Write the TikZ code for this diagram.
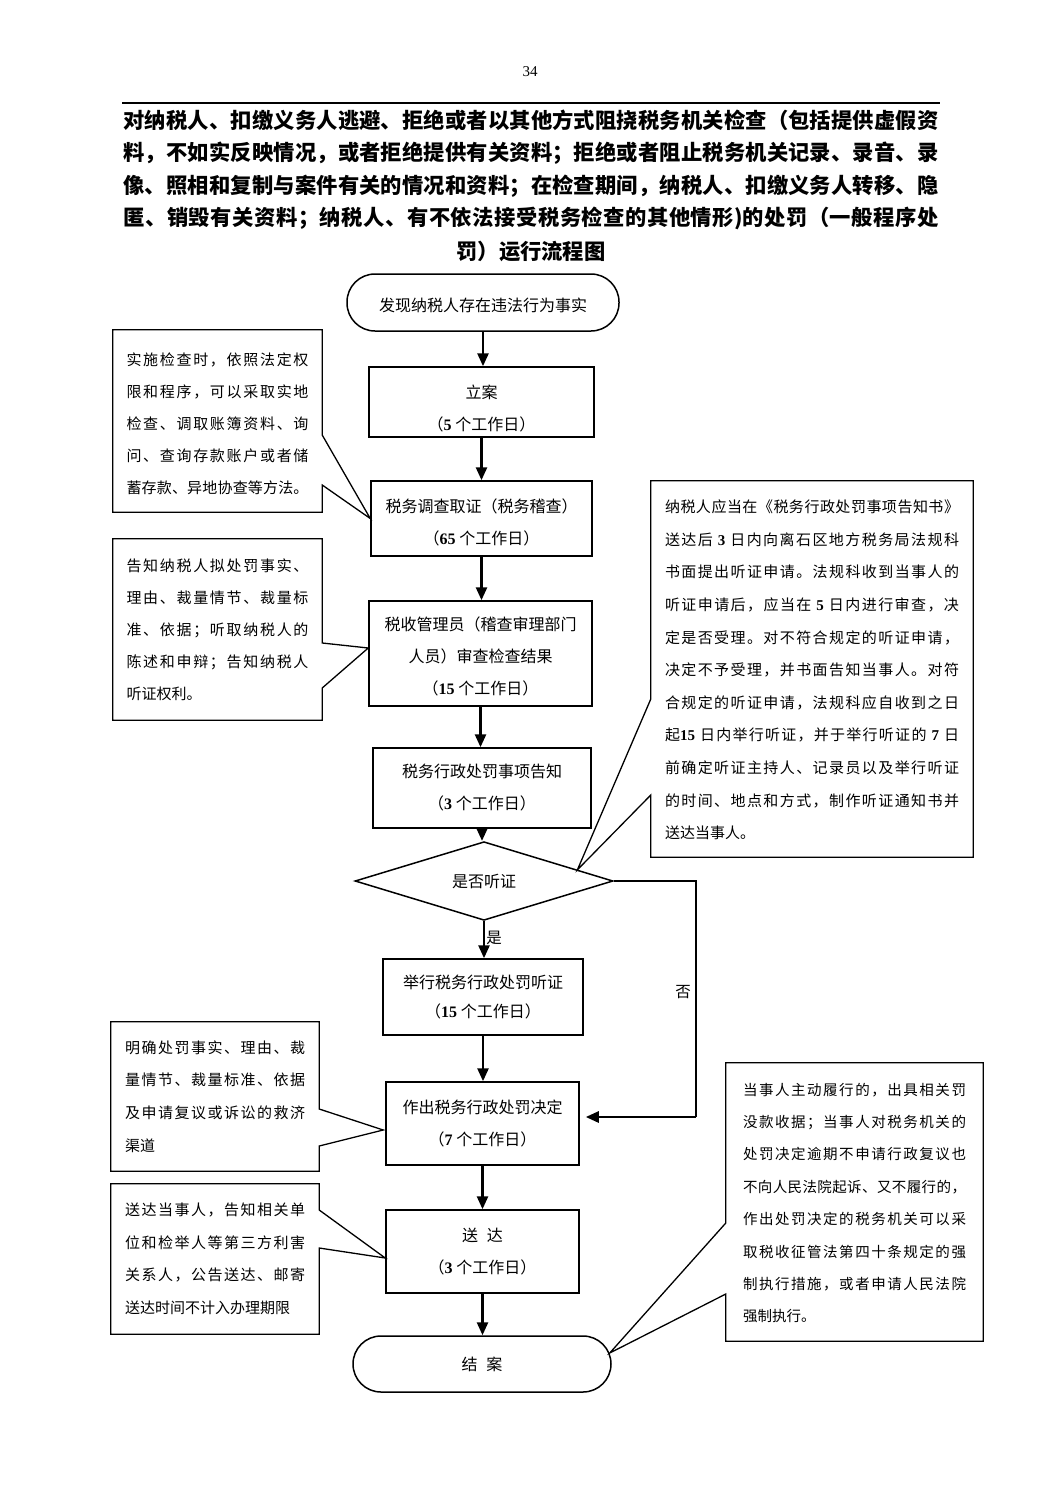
\documentclass[tikz,border=0pt]{standalone}
\usepackage{fontspec}
\setmainfont{Noto Sans CJK SC}
\newfontfamily\tnr{Liberation Serif}
\usetikzlibrary{arrows.meta,shapes.geometric,calc}
% stretchable glue between CJK characters (for justified lines)
\XeTeXinterchartokenstate=1
\newXeTeXintercharclass\cjkcls
\newcount\cjkcnt
\cjkcnt="3000
\loop\ifnum\cjkcnt<"3040 \XeTeXcharclass\cjkcnt=\cjkcls \advance\cjkcnt by 1 \repeat
\cjkcnt="4E00
\loop\ifnum\cjkcnt<"A000 \XeTeXcharclass\cjkcnt=\cjkcls \advance\cjkcnt by 1 \repeat
\cjkcnt="FF00
\loop\ifnum\cjkcnt<"FFF0 \XeTeXcharclass\cjkcnt=\cjkcls \advance\cjkcnt by 1 \repeat
\XeTeXinterchartoks\cjkcls\cjkcls={\hskip0pt plus 1pt\relax}
\newcommand\dg[1]{{\tnr\bfseries #1}}
\newcommand\jl[2]{\makebox[#1][s]{#2}}
\newcommand\lift[1]{\rule{0pt}{#1}}
\tikzset{
  flow/.style={draw, line width=1.5pt, inner sep=0pt, align=center, font=\fontsize{16}{32}\selectfont},
  term/.style={flow, rounded corners=28pt},
  note/.style={inner sep=0pt, align=left, font=\fontsize{15}{32}\selectfont},
  frame/.style={draw, line width=1.3pt, line join=miter},
  flowarrow/.style={line width=2.6pt, -{Triangle[length=13pt,width=11pt]}},
  thinline/.style={line width=1.5pt},
  lbl/.style={inner sep=1pt, font=\fontsize{15.5}{18}\selectfont}
}
\begin{document}
\begin{tikzpicture}[x=1pt,y=-1pt]
\useasboundingbox[fill=white] (0,0) rectangle (1063,1502);

% header
\node[inner sep=0pt, font=\tnr\fontsize{15}{15}\selectfont] (pgno) at (530,72) {34};
\coordinate (ruleL) at (122,103);
\coordinate (ruleR) at (940,103);
\draw[line width=2pt] (ruleL) -- (ruleR);
\node[inner sep=0pt, align=left, font=\bfseries\fontsize{21.3}{32.5}\selectfont] (title) at (531,170) {%
\jl{815pt}{对纳税人、扣缴义务人逃避、拒绝或者以其他方式阻挠税务机关检查（包括提供虚假资}\\
\jl{815pt}{料，不如实反映情况，或者拒绝提供有关资料；拒绝或者阻止税务机关记录、录音、录}\\
\jl{815pt}{像、照相和复制与案件有关的情况和资料；在检查期间，纳税人、扣缴义务人转移、隐}\\
\jl{815pt}{匿、销毁有关资料；纳税人、有不依法接受税务检查的其他情形)的处罚（一般程序处}};
\node[inner sep=0pt, font=\bfseries\fontsize{21.3}{26}\selectfont] (title2) at (531,251) {罚）运行流程图};

% main flow
\node[term, minimum width=272pt, minimum height=57pt] (start) at (483,302.5) {\lift{20pt}发现纳税人存在违法行为事实};
\node[flow, minimum width=225pt, minimum height=70pt] (b1) at (481.5,402) {\lift{26pt}立案\\（\dg{5} 个工作日）};
\node[flow, minimum width=221pt, minimum height=75pt] (b2) at (481.5,518.5) {\lift{22pt}税务调查取证（税务稽查）\\（\dg{65} 个工作日）};
\node[flow, minimum width=223pt, minimum height=105pt] (b3) at (480.5,653.5) {\lift{20pt}税收管理员（稽查审理部门\\人员）审查检查结果\\（\dg{15} 个工作日）};
\node[flow, minimum width=218pt, minimum height=80pt] (b4) at (482,788) {税务行政处罚事项告知\\（\dg{3} 个工作日）};
\node[flow, shape=diamond, minimum width=258pt, minimum height=68pt] (d) at (484,881) {是否听证};
\node[flow, minimum width=200pt, minimum height=76pt, font=\fontsize{16}{29}\selectfont] (b5) at (483,997) {举行税务行政处罚听证\\（\dg{15} 个工作日）};
\node[flow, minimum width=193pt, minimum height=83pt] (b6) at (482.5,1123.5) {作出税务行政处罚决定\\（\dg{7} 个工作日）};
\node[flow, minimum width=193pt, minimum height=83pt] (b7) at (482.5,1251.5) {送\hspace{9pt}达\\（\dg{3} 个工作日）};
\node[term, minimum width=258pt, minimum height=56pt] (end) at (482,1364) {结\hspace{9pt}案};

\draw[flowarrow] (start.south) -- (start.south |- b1.north);
\draw[flowarrow] (b1.south) -- (b1.south |- b2.north);
\draw[flowarrow] (b2.south) -- (b2.south |- b3.north);
\draw[flowarrow] (b3.south) -- (b3.south |- b4.north);
\draw[flowarrow] (b4.south) -- (b4.south |- d.north);
\draw[flowarrow] (d.south) -- (d.south |- b5.north) node[lbl, right, pos=0.45] (yes) {是};
\draw[flowarrow] (b5.south) -- (b5.south |- b6.north);
\draw[flowarrow] (b6.south) -- (b6.south |- b7.north);
\draw[flowarrow] (b7.south) -- (b7.south |- end.north);

% "no" branch
\coordinate (n1) at (696,881);
\coordinate (n2) at (696,1117);
\draw[thinline] (d.east) -- (n1) -- (n2);
\draw[flowarrow] (n2) -- ($(b6.east |- n2)+(6,0)$);
\node[lbl] (no) at (683,992) {否};

% callout notes
\node[note, minimum width=209pt, minimum height=182pt, text width=182pt] (c1) at (217.5,424) {%
\jl{182pt}{实施检查时，依照法定权}\\
\jl{182pt}{限和程序，可以采取实地}\\
\jl{182pt}{检查、调取账簿资料、询}\\
\jl{182pt}{问、查询存款账户或者储}\\
\jl{182pt}{蓄存款、异地协查等方法。}};
\draw[frame] ($(c1.north west)+(0,-3)$) -- ($(c1.north east)+(0,-3)$) -- (c1.east |- 0,435) -- (b2.west) -- (c1.east |- 0,485) -- ($(c1.south east)+(0,-3)$) -- ($(c1.south west)+(0,-3)$) -- cycle;

\node[note, minimum width=209pt, minimum height=181pt, text width=182pt] (c2) at (217.5,629.5) {%
\jl{182pt}{告知纳税人拟处罚事实、}\\
\jl{182pt}{理由、裁量情节、裁量标}\\
\jl{182pt}{准、依据；听取纳税人的}\\
\jl{182pt}{陈述和申辩；告知纳税人}\\
听证权利。};
\draw[frame] (c2.north west) -- (c2.north east) -- (c2.east |- 0,643) -- ($(b3.west)+(0,-5.5)$) -- (c2.east |- 0,688) -- (c2.south east) -- (c2.south west) -- cycle;

\node[note, minimum width=322pt, minimum height=376pt, text width=294pt, font=\fontsize{15}{32.6}\selectfont] (c3) at (812,670) {%
\jl{294pt}{纳税人应当在《税务行政处罚事项告知书》}\\
\jl{294pt}{送达后 \dg{3} 日内向离石区地方税务局法规科}\\
\jl{294pt}{书面提出听证申请。法规科收到当事人的}\\
\jl{294pt}{听证申请后，应当在 \dg{5} 日内进行审查，决}\\
\jl{294pt}{定是否受理。对不符合规定的听证申请，}\\
\jl{294pt}{决定不予受理，并书面告知当事人。对符}\\
\jl{294pt}{合规定的听证申请，法规科应自收到之日}\\
\jl{294pt}{起\dg{15} 日内举行听证，并于举行听证的 \dg{7} 日}\\
\jl{294pt}{前确定听证主持人、记录员以及举行听证}\\
\jl{294pt}{的时间、地点和方式，制作听证通知书并}\\
送达当事人。};
\draw[frame] ($(c3.north west)+(0,-1)$) -- ($(c3.north east)+(0,-1)$) -- ($(c3.south east)+(0,-1)$) -- ($(c3.south west)+(0,-1)$) -- (c3.west |- 0,795) -- ($(d.north)!0.72!(d.east)$) -- (c3.west |- 0,699) -- cycle;

\node[note, minimum width=208pt, minimum height=149pt, text width=180pt, font=\fontsize{15}{32.6}\selectfont] (c4) at (215,1096.5) {%
\jl{180pt}{明确处罚事实、理由、裁}\\
\jl{180pt}{量情节、裁量标准、依据}\\
\jl{180pt}{及申请复议或诉讼的救济}\\
渠道};
\draw[frame] (c4.north west) -- (c4.north east) -- (c4.east |- 0,1109) -- ($(b6.west)+(-2,6.5)$) -- (c4.east |- 0,1146) -- (c4.south east) -- (c4.south west) -- cycle;

\node[note, minimum width=208pt, minimum height=150pt, text width=180pt, font=\fontsize{15}{32.6}\selectfont] (c5) at (215,1259) {%
\jl{180pt}{送达当事人，告知相关单}\\
\jl{180pt}{位和检举人等第三方利害}\\
\jl{180pt}{关系人，公告送达、邮寄}\\
送达时间不计入办理期限};
\draw[frame] (c5.north west) -- (c5.north east) -- (c5.east |- 0,1210) -- ($(b7.west)+(0,6.5)$) -- (c5.east |- 0,1248) -- (c5.south east) -- (c5.south west) -- cycle;

\node[note, minimum width=257pt, minimum height=278pt, text width=223pt, font=\fontsize{14.5}{32.4}\selectfont] (c6) at (854.5,1203) {%
\jl{223pt}{当事人主动履行的，出具相关罚}\\
\jl{223pt}{没款收据；当事人对税务机关的}\\
\jl{223pt}{处罚决定逾期不申请行政复议也}\\
\jl{223pt}{不向人民法院起诉、又不履行的，}\\
\jl{223pt}{作出处罚决定的税务机关可以采}\\
\jl{223pt}{取税收征管法第四十条规定的强}\\
\jl{223pt}{制执行措施，或者申请人民法院}\\
强制执行。};
\draw[frame] ($(c6.north west)+(0,-1)$) -- ($(c6.north east)+(0,-1)$) -- ($(c6.south east)+(0,-1)$) -- ($(c6.south west)+(0,-1)$) -- (c6.west |- 0,1294) -- ($(end.east)+(-2,-11)$) -- (c6.west |- 0,1223) -- cycle;
\end{tikzpicture}
\end{document}
